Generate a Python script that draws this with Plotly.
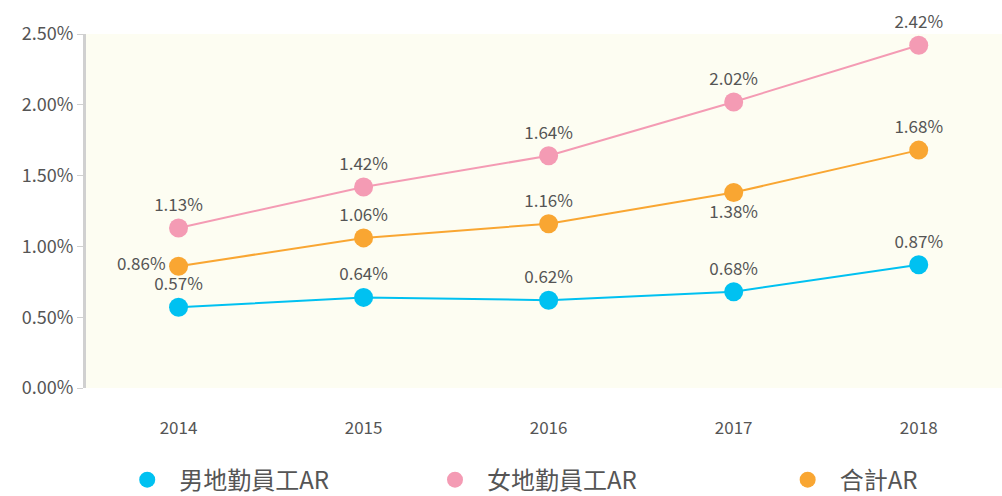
import plotly.graph_objects as go

years = ["2014", "2015", "2016", "2017", "2018"]
male_ar = [0.57, 0.64, 0.62, 0.68, 0.87]
female_ar = [1.13, 1.42, 1.64, 2.02, 2.42]
total_ar = [0.86, 1.06, 1.16, 1.38, 1.68]

series_names = ["男地勤員工AR", "女地勤員工AR", "合計AR"]
colors = ["#00C1F1", "#F49BB4", "#F9A632"]
legend_ids = ["legend", "legend2", "legend3"]

FONT = "Noto Sans CJK TC, Noto Sans, sans-serif"
TEXT = "#555555"

fig = go.Figure()

label_pos = {
    0: ["top center"] * 5,
    1: ["top center"] * 5,
    2: ["middle left", "top center", "top center", "bottom center", "top center"],
}

for i, (name, vals) in enumerate(zip(series_names, [male_ar, female_ar, total_ar])):
    fig.add_trace(go.Scatter(
        x=years,
        y=vals,
        name=name,
        mode="lines+markers+text",
        line=dict(color=colors[i], width=2),
        marker=dict(color=colors[i], size=19),
        text=[f"{v:.2f}%" for v in vals],
        textposition=label_pos[i],
        textfont=dict(family=FONT, size=17, color=TEXT),
        cliponaxis=False,
        showlegend=False,
    ))
    # legend entry: plain dot
    fig.add_trace(go.Scatter(
        x=[None],
        y=[None],
        name="\u2002" + name,
        mode="markers",
        marker=dict(color=colors[i], size=20),
        showlegend=True,
        legend=legend_ids[i],
    ))

legend_common = dict(
    orientation="h",
    yanchor="middle",
    y=-0.26,
    font=dict(family=FONT, size=24, color=TEXT),
    bgcolor="rgba(0,0,0,0)",
    itemsizing="trace",
)

fig.update_layout(
    width=1002,
    height=496,
    margin=dict(l=86, r=0, t=34, b=108, autoexpand=False),
    paper_bgcolor="#FFFFFF",
    plot_bgcolor="#FDFDF2",
    hovermode=False,
    showlegend=True,
    legend=dict(x=0.045, **legend_common),
    legend2=dict(x=0.381, **legend_common),
    legend3=dict(x=0.766, **legend_common),
    xaxis=dict(
        type="category",
        range=[-0.5, 4.45],
        showgrid=False,
        zeroline=False,
        showline=False,
        ticks="",
        ticklabelstandoff=28,
        tickfont=dict(family=FONT, size=17, color=TEXT),
    ),
    yaxis=dict(
        range=[0, 2.5],
        tickvals=[0, 0.5, 1.0, 1.5, 2.0, 2.5],
        ticktext=["0.00%", "0.50%", "1.00%", "1.50%", "2.00%", "2.50%"],
        showgrid=False,
        zeroline=False,
        showline=True,
        linecolor="#D0D0D0",
        linewidth=3,
        ticks="outside",
        ticklen=6,
        tickcolor="#D0D0D0",
        tickwidth=1,
        tickfont=dict(family=FONT, size=18, color=TEXT),
    ),
)

fig.write_html("out.html")
